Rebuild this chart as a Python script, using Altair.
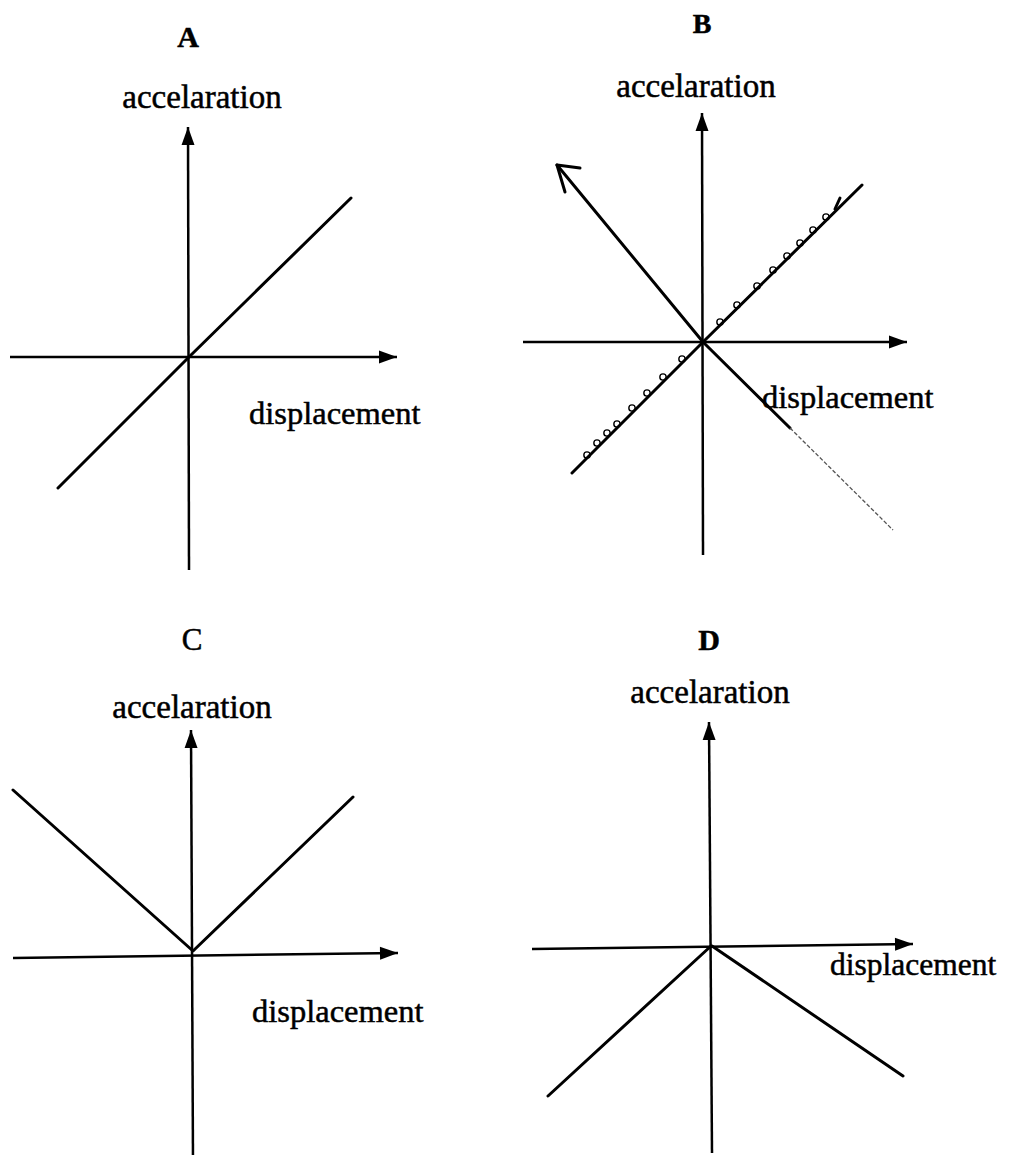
import math
import altair as alt
import pandas as pd

# ---------------- data (image pixel coordinates) -------------
W, H = 993, 1147          # plot area
X0, Y0 = 8, 8             # page margin

panels = ["A", "B", "C", "D"]
title_x = [188, 702, 192, 709]
title_y = [47, 33, 650, 650]
title_size = [30, 28, 31, 30]
title_bold = [True, True, False, True]

acc_x = [202, 696, 192, 710]
acc_y = [108, 97, 718, 703]
disp_x = [249, 762, 252, 830]
disp_y = [424, 408, 1022, 975]
disp_size = [32.5, 32.5, 32.5, 31.5]

# axes: start point and arrow tip
hax_x1 = [10, 523, 13, 532]
hax_y1 = [357, 342, 958, 949]
hax_x2 = [397, 907, 398, 913]
hax_y2 = [357, 342, 953, 944]
vax_x1 = [189, 703, 193, 712]
vax_y1 = [570, 555, 1162, 1153]
vax_x2 = [188, 702, 191, 709]
vax_y2 = [127, 113, 730, 722]

# graph polylines
curves = {
    "A": ([58, 189, 351], [488, 357, 198]),
    "B1": ([572, 703, 862], [473, 342, 185]),
    "B2": ([557, 703, 790], [165, 342, 428]),
    "Bbarb": ([580, 557, 565], [168, 165, 192]),
    "Btick": ([835, 840], [209, 198]),
    "C": ([13, 193, 353], [790, 951, 797]),
    "D1": ([548, 711], [1096, 946]),
    "D2": ([712, 903], [946, 1076]),
}
faint_x = [790, 893]
faint_y = [428, 530]

# small hand-drawn loops along the B diagonal
bump_x = [587, 597, 607, 617, 632, 647, 663, 682, 720, 737, 757, 773, 787, 800, 813, 826]
bump_y = [455, 443, 433, 424, 408, 393, 377, 359, 322, 305, 286, 270, 256, 243, 230, 217]

# ---------------- tables ----------------
rows = []
for i, p in enumerate(panels):
    rows.append(dict(x=hax_x1[i], y=hax_y1[i], x2=hax_x2[i], y2=hax_y2[i]))
    rows.append(dict(x=vax_x1[i], y=vax_y1[i], x2=vax_x2[i], y2=vax_y2[i]))
axes_df = pd.DataFrame(rows)

arrows = []
for i in range(4):
    for (xa, ya, xb, yb) in [(hax_x1[i], hax_y1[i], hax_x2[i], hax_y2[i]),
                             (vax_x1[i], vax_y1[i], vax_x2[i], vax_y2[i])]:
        ang = math.degrees(math.atan2(xb - xa, -(yb - ya))) % 360
        arrows.append(dict(x=xb, y=yb, angle=ang))
arrow_df = pd.DataFrame(arrows)

crow = []
for k, (xs_, ys_) in curves.items():
    for j, (xx, yy) in enumerate(zip(xs_, ys_)):
        crow.append(dict(id=k, o=j, x=xx, y=yy))
curve_df = pd.DataFrame(crow)
faint_df = pd.DataFrame(dict(id="f", o=[0, 1], x=faint_x, y=faint_y))
bump_df = pd.DataFrame(dict(x=bump_x, y=bump_y))

title_df = pd.DataFrame(dict(x=title_x, y=title_y, label=panels, size=title_size, bold=title_bold))
acc_df = pd.DataFrame(dict(x=acc_x, y=acc_y, label="accelaration"))
disp_df = pd.DataFrame(dict(x=disp_x, y=disp_y, label="displacement", size=disp_size))

# ---------------- chart ----------------
xs = alt.Scale(domain=[X0, X0 + W], nice=False, zero=False)
ys = alt.Scale(domain=[Y0, Y0 + H], nice=False, zero=False, reverse=True)
X = alt.X("x:Q", scale=xs, axis=None)
Y = alt.Y("y:Q", scale=ys, axis=None)

axes_layer = alt.Chart(axes_df).mark_rule(color="black", strokeWidth=2.5).encode(
    x=X, y=Y, x2="x2:Q", y2="y2:Q")

arrow_layer = alt.Chart(arrow_df).mark_point(
    shape="M0,0L0.72,2L-0.72,2Z", filled=True, color="black", opacity=1, size=324
).encode(x=X, y=Y, angle=alt.Angle("angle:Q", scale=None))

curve_layer = alt.Chart(curve_df).mark_line(
    color="black", strokeWidth=3, strokeJoin="round", strokeCap="round"
).encode(x=X, y=Y, detail="id:N", order="o:Q")

faint_layer = alt.Chart(faint_df).mark_line(
    color="#555555", strokeWidth=1.3, strokeDash=[4, 2]
).encode(x=X, y=Y, order="o:Q")

bump_layer = alt.Chart(bump_df).mark_point(
    shape="circle", filled=False, color="black", strokeWidth=1.4, size=40, opacity=1
).encode(x=X, y=Y)

font = "Liberation Serif"
tstyle = dict(font=font, color="black", stroke="black", strokeWidth=0.5, baseline="alphabetic")
title_bold_layer = alt.Chart(title_df).transform_filter("datum.bold").mark_text(
    fontWeight="bold", align="center", **tstyle
).encode(x=X, y=Y, text="label:N", size=alt.Size("size:Q", scale=None))
title_reg_layer = alt.Chart(title_df).transform_filter("!datum.bold").mark_text(
    fontWeight="normal", align="center", **tstyle
).encode(x=X, y=Y, text="label:N", size=alt.Size("size:Q", scale=None))

acc_layer = alt.Chart(acc_df).mark_text(
    fontSize=33, align="center", **tstyle
).encode(x=X, y=Y, text="label:N")
disp_layer = alt.Chart(disp_df).mark_text(
    align="left", **tstyle
).encode(x=X, y=Y, text="label:N", size=alt.Size("size:Q", scale=None))

chart = alt.layer(
    axes_layer, curve_layer, faint_layer, bump_layer, arrow_layer,
    title_bold_layer, title_reg_layer, acc_layer, disp_layer
).properties(
    width=W, height=H, padding=0, autosize=alt.AutoSizeParams(type="none"),
    background="white"
).configure_view(stroke=None)

chart.save("out.html", embed_options={"renderer": "svg", "actions": False})
